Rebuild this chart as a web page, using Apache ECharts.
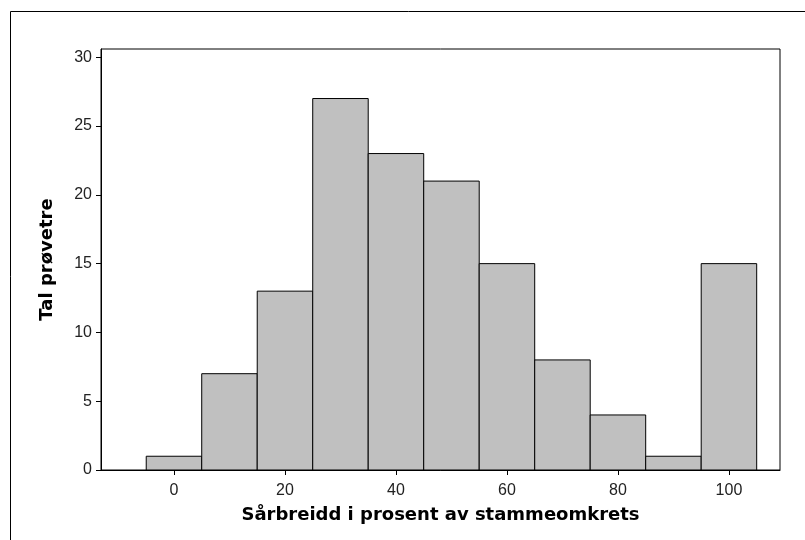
<!DOCTYPE html>
<html>
<head>
<meta charset="utf-8">
<script src="https://cdn.jsdelivr.net/npm/echarts@6/dist/echarts.min.js"></script>
<style>
  html, body { margin: 0; padding: 0; background: #fff; }
  #chart { width: 805px; height: 540px; }
</style>
</head>
<body>
<div id="chart"></div>
<script>
// bin midpoints (percent) and counts
var binMids = [0, 10, 20, 30, 40, 50, 60, 70, 80, 90, 100];
var counts = [1, 7, 13, 27, 23, 21, 15, 8, 4, 1, 15];
var binWidth = 10;
var xTicks = [0, 20, 40, 60, 80, 100];
var yTicks = [0, 5, 10, 15, 20, 25, 30];

var histData = [];
for (var i = 0; i < binMids.length; i++) {
    histData.push([binMids[i], counts[i]]);
}

var font = 'Liberation Sans, Arial, sans-serif';
var titleFont = 'DejaVu Sans, sans-serif';

var myChart = echarts.init(document.getElementById('chart'));
var option = {
    animation: false,
    backgroundColor: '#fff',
    graphic: [{
        type: 'rect',
        shape: { x: 10.5, y: 11.5, width: 900, height: 900 },
        style: { fill: 'none', stroke: '#000', lineWidth: 1 },
        silent: true
    }],
    grid: {
        left: 101, right: 25, top: 49, bottom: 70,
        show: true, borderColor: '#000', borderWidth: 1, backgroundColor: 'transparent'
    },
    xAxis: {
        type: 'value',
        min: -13.15,
        max: 109.2,
        name: 'Sårbreidd i prosent av stammeomkrets',
        nameLocation: 'middle',
        nameGap: 36,
        nameTextStyle: { fontFamily: titleFont, fontWeight: 'bold', fontSize: 18, color: '#000' },
        axisLine: { onZero: false, lineStyle: { color: '#000' } },
        axisTick: { show: true, length: 5, lineStyle: { color: '#000' }, customValues: xTicks },
        axisLabel: { customValues: xTicks, margin: 13, fontFamily: font, fontSize: 16, color: '#222' },
        splitLine: { show: false }
    },
    yAxis: {
        type: 'value',
        min: 0,
        max: 30.6,
        name: 'Tal prøvetre',
        nameLocation: 'middle',
        nameGap: 45,
        nameTextStyle: { fontFamily: titleFont, fontWeight: 'bold', fontSize: 18, color: '#000' },
        axisLine: { show: true, onZero: false, lineStyle: { color: '#000' } },
        axisTick: { show: true, length: 5, lineStyle: { color: '#000' }, customValues: yTicks },
        axisLabel: { customValues: yTicks, margin: 9, fontFamily: font, fontSize: 16, color: '#222' },
        splitLine: { show: false }
    },
    series: [{
        type: 'custom',
        data: histData,
        renderItem: function (params, api) {
            var x = api.value(0);
            var v = api.value(1);
            var p0 = api.coord([x - binWidth / 2, v]);
            var p1 = api.coord([x + binWidth / 2, 0]);
            return {
                type: 'rect',
                shape: { x: p0[0], y: p0[1], width: p1[0] - p0[0], height: p1[1] - p0[1] },
                style: { fill: '#c0c0c0', stroke: '#000', lineWidth: 1 }
            };
        }
    }]
};
myChart.setOption(option);
</script>
</body>
</html>
